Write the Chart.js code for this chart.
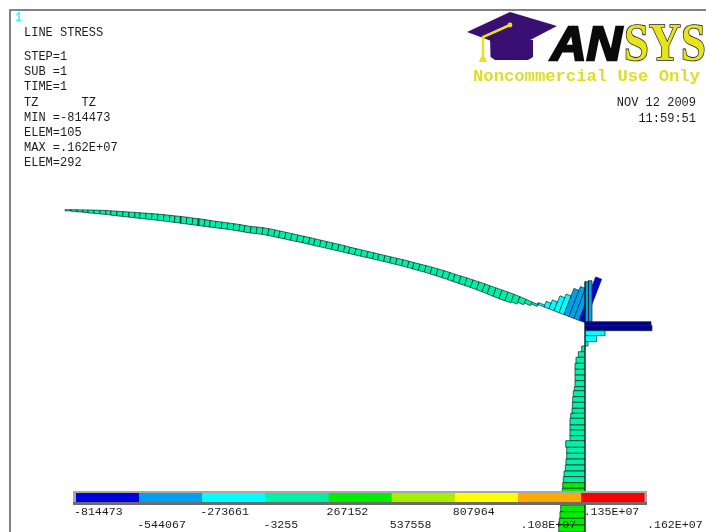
<!DOCTYPE html>
<html>
<head>
<meta charset="utf-8">
<title>LINE STRESS</title>
<script src="https://cdn.jsdelivr.net/npm/chart.js@4"></script>
<style>
  html, body { margin: 0; padding: 0; background: #fff; overflow: hidden; }
  canvas { display: block; }
</style>
</head>
<body>
<canvas id="plot" width="706" height="532"></canvas>
<script>
// contour levels and legend text
var levels = [-814473, -544067, -273661, -3255, 267152, 537558, 807964, 1078370, 1348776, 1620000];
var levelLabels = ["-814473", "-544067", "-273661", "-3255", "267152", "537558", "807964", ".108E+07", ".135E+07", ".162E+07"];
var bandColors = ["#0000dc", "#00a0f0", "#00ffff", "#00f0a8", "#00ee00", "#a8ee00", "#ffff00", "#ffa800", "#f80000"];

var infoLines = ["LINE STRESS", "", "STEP=1", "SUB =1", "TIME=1", "TZ      TZ", "MIN =-814473", "ELEM=105", "MAX =.162E+07", "ELEM=292"];
var dateLines = ["NOV 12 2009", "11:59:51"];

// roof beam nodes, model units
var beamX = [65,71,77,83,88,94,100,106,111,117,123,129,135,140,146,152,158,164,170,175,181,187,193,199,205,210,216,222,228,234,240,245,251,257,263,269,275,280,286,292,298,304,310,315,321,327,333,339,345,350,356,362,368,374,379,385,391,397,403,409,414,420,426,432,438,444,450,455,461,467,473,479,485,490,496,502,508,514,520,526,532,538];
var beamY = [209.7,209.7,209.8,209.9,210,210.1,210.3,210.5,210.8,211.2,211.6,212,212.4,212.8,213.2,213.6,214.1,214.7,215.3,215.9,216.5,217.2,218,218.8,219.6,220.4,221.3,222.1,222.9,223.7,224.6,225.5,226.5,227,227.7,228.7,229.9,231,232.3,233.7,235,236.3,237.6,238.9,240.2,241.6,243,244.4,245.8,247.2,248.6,250,251.4,252.8,254.1,255.5,256.9,258.3,259.7,261.2,262.6,264.1,265.6,267.2,268.9,270.7,272.5,274.3,276.1,277.9,279.9,281.9,283.9,285.8,287.9,290,292.1,294.3,296.7,299.3,302,304.6];
// element stress in thousands, one less than the nodes
var beamStress = [14,20,26,31,37,42,46,50,54,58,61,64,67,70,72,75,76,78,80,81,82,83,83,83,82,81,80,78,78,80,80,81,81,82,83,84,84,84,83,83,82,82,81,81,81,81,81,80,80,78,78,77,76,76,75,75,76,76,77,78,80,81,83,86,88,89,92,93,96,98,99,102,104,107,110,114,112,98,74,49,25];

// haunch next to the joint
var haunchX = [538,544,549,554,559,564,569,574,579,585];
var haunchY = [304.6,306.9,308.8,310.7,312.7,314.6,316.5,318.4,320.3,322.6];
var haunchStress = [-25,-74,-117,-197,-246,-344,-394,-467,-572];

// short stub right of the joint
var stubX = [585,588.5,592];
var stubY = [321.7,321.7,321.7];
var stubStress = [-492,-504];

// column nodes going down from the joint
var columnTopX = [585,585,585,585,585,585];
var columnTopY = [321.7,325.5,330.7,335.7,341.7,346];
var columnTopStress = [-812,-824,-246,-144,-37];
var wallX = [585,585,585,585,585,585,585,585,585,585,585,585,585,585,585,585,585,585,585,585,585,585,585,585,585,585,585,585,585,585,585,585,585];
var wallY = [346,351.7,357.3,363.3,369.3,375,380.7,386.7,390.7,396.7,402.3,408.3,413.3,418.3,425,430,435.7,440.7,447.3,453.3,459,465,471,476.7,482.7,488.3,494,499.3,505,511.7,518.3,525,532];
var wallStress = [41,82,111,123,123,123,123,132,144,151,156,160,176,185,185,185,185,237,225,225,234,242,258,267,274,280,287,292,299,308,316,323];

var stressPerUnit = 12.3; // thousands per model unit of bar height
var legendUnit = (levels[9] - levels[0]) / (644.5 - 76);

function bandColor(stress) {
  if (stress < -700) return "#00008c"; // flange rows read darker than the legend
  var value = stress * 1000;
  for (var i = 0; i < bandColors.length; i++) {
    if (value < levels[i + 1]) return bandColors[i];
  }
  return bandColors[bandColors.length - 1];
}

function shape(points, fill, edge, xAxisID) {
  return {
    type: "scatter",
    data: points,
    showLine: true,
    fill: "shape",
    tension: 0,
    pointRadius: 0,
    borderWidth: edge ? 0.7 : 0,
    borderColor: edge || fill,
    backgroundColor: fill,
    xAxisID: xAxisID || "x",
    yAxisID: "y",
  };
}

// one bar per element, standing on the line between two nodes
function barsAlong(xs, ys, stress) {
  var out = [];
  for (var i = 0; i < stress.length; i++) {
    var dx = xs[i + 1] - xs[i];
    var dy = ys[i + 1] - ys[i];
    var len = Math.sqrt(dx * dx + dy * dy);
    var h = stress[i] / stressPerUnit;
    var nx = (-dy / len) * h;
    var ny = (dx / len) * h;
    out.push(shape([
      { x: xs[i], y: ys[i] },
      { x: xs[i + 1], y: ys[i + 1] },
      { x: xs[i + 1] + nx, y: ys[i + 1] + ny },
      { x: xs[i] + nx, y: ys[i] + ny },
      { x: xs[i], y: ys[i] },
    ], bandColor(stress[i]), "#0a2a22"));
  }
  return out;
}

var datasets = [];
datasets = datasets.concat(barsAlong(beamX, beamY, beamStress));
datasets = datasets.concat(barsAlong(haunchX, haunchY, haunchStress));
datasets = datasets.concat(barsAlong(stubX, stubY, stubStress));
datasets = datasets.concat(barsAlong(columnTopX, columnTopY, columnTopStress));
datasets = datasets.concat(barsAlong(wallX, wallY, wallStress));

// legend strip on top of the column
var stripLeft = levels[0] - 3 * legendUnit;
var stripRight = levels[9] + 2.5 * legendUnit;
datasets.push(shape([{ x: stripLeft, y: 491 }, { x: stripRight, y: 491 }, { x: stripRight, y: 502 }, { x: stripLeft, y: 502 }, { x: stripLeft, y: 491 }], "#a8a8a8", null, "legendX"));
datasets.push(shape([{ x: stripLeft, y: 502 }, { x: stripRight, y: 502 }, { x: stripRight, y: 505 }, { x: stripLeft, y: 505 }, { x: stripLeft, y: 502 }], "#6c6c6c", null, "legendX"));
bandColors.forEach(function (color, i) {
  datasets.push(shape([
    { x: levels[i], y: 493 },
    { x: levels[i + 1], y: 493 },
    { x: levels[i + 1], y: 502 },
    { x: levels[i], y: 502 },
    { x: levels[i], y: 493 },
  ], color, null, "legendX"));
});
// chart.js paints the first dataset last
datasets.reverse();

function poly(ctx, pts, color) {
  ctx.fillStyle = color;
  ctx.beginPath();
  ctx.moveTo(pts[0][0], pts[0][1]);
  for (var i = 1; i < pts.length; i++) ctx.lineTo(pts[i][0], pts[i][1]);
  ctx.closePath();
  ctx.fill();
}

var framePlugin = {
  id: "frame",
  beforeDatasetsDraw: function (chart) {
    var ctx = chart.ctx;
    ctx.save();
    ctx.strokeStyle = "#5a5a5a";
    ctx.lineWidth = 1.5;
    ctx.beginPath();
    ctx.moveTo(10, 532);
    ctx.lineTo(10, 10);
    ctx.lineTo(706, 10);
    ctx.stroke();
    ctx.restore();
  },
};

var textPlugin = {
  id: "texts",
  afterDatasetsDraw: function (chart) {
    var ctx = chart.ctx;
    var legendX = chart.scales.legendX;
    ctx.save();
    ctx.textBaseline = "middle";

    ctx.font = "bold 12px 'Liberation Mono'";
    ctx.fillStyle = "#50f0f0";
    ctx.fillText("1", 15, 18);

    ctx.font = "12px 'Liberation Mono'";
    ctx.fillStyle = "#1c1c1c";
    infoLines.forEach(function (line, i) {
      var y = i == 0 ? 33 : 26.5 + i * 15.2;
      ctx.fillText(line, 24, y);
    });

    ctx.textAlign = "right";
    dateLines.forEach(function (line, i) {
      ctx.fillText(line, 696, 103 + i * 16);
    });
    ctx.textAlign = "left";

    ctx.font = "11.6px 'Liberation Mono'";
    levelLabels.forEach(function (label, i) {
      var x = legendX.getPixelForValue(levels[i]);
      ctx.fillStyle = "#1c1c1c";
      ctx.fillText(label, x - 2 + (label.charAt(0) == "." ? 4.5 : 0), i % 2 == 0 ? 512 : 525);
    });

    // logo
    poly(ctx, [[490, 38], [490.5, 57], [495, 60], [528, 60], [533, 57], [533, 40]], "#3a0f72");
    poly(ctx, [[467, 32], [510, 12], [557, 26], [513, 49]], "#3a0f72");
    ctx.strokeStyle = "#e8e020";
    ctx.lineWidth = 2.5;
    ctx.beginPath();
    ctx.moveTo(510, 25);
    ctx.lineTo(483, 37);
    ctx.lineTo(483, 61);
    ctx.stroke();
    poly(ctx, [[479, 62], [487, 62], [485, 57], [481, 57]], "#e8e020");
    ctx.beginPath();
    ctx.fillStyle = "#e8e020";
    ctx.arc(510, 25, 2.4, 0, Math.PI * 2);
    ctx.fill();

    ctx.textBaseline = "alphabetic";
    ctx.font = "italic bold 49px 'Liberation Sans'";
    ctx.fillStyle = "#0a0a0a";
    ctx.strokeStyle = "#0a0a0a";
    ctx.lineWidth = 2.5;
    ctx.fillText("AN", 551, 60);
    ctx.strokeText("AN", 551, 60);

    ctx.save();
    ctx.translate(624, 60);
    ctx.scale(0.84, 1);
    ctx.font = "bold 53px 'Liberation Serif'";
    ctx.strokeStyle = "#1a1a1a";
    ctx.lineWidth = 1.6;
    ctx.strokeText("SYS", 0, 0);
    ctx.fillStyle = "#e8e41c";
    ctx.fillText("SYS", 0, 0);
    ctx.restore();

    ctx.textBaseline = "middle";
    ctx.font = "bold 17.2px 'Liberation Mono'";
    ctx.fillStyle = "#dede2a";
    ctx.fillText("Noncommercial Use Only", 473, 76.5);
    ctx.restore();
  },
};

new Chart(document.getElementById("plot").getContext("2d"), {
  data: { datasets: datasets },
  options: {
    responsive: false,
    animation: false,
    events: [],
    layout: { padding: 0 },
    plugins: { legend: { display: false }, tooltip: { enabled: false } },
    scales: {
      x: { type: "linear", display: false, min: 0, max: 706 },
      y: { type: "linear", display: false, min: 0, max: 532, reverse: true },
      legendX: {
        type: "linear",
        display: false,
        min: levels[0] - 76 * legendUnit,
        max: levels[0] + 630 * legendUnit,
      },
    },
  },
  plugins: [framePlugin, textPlugin],
});
</script>
</body>
</html>
